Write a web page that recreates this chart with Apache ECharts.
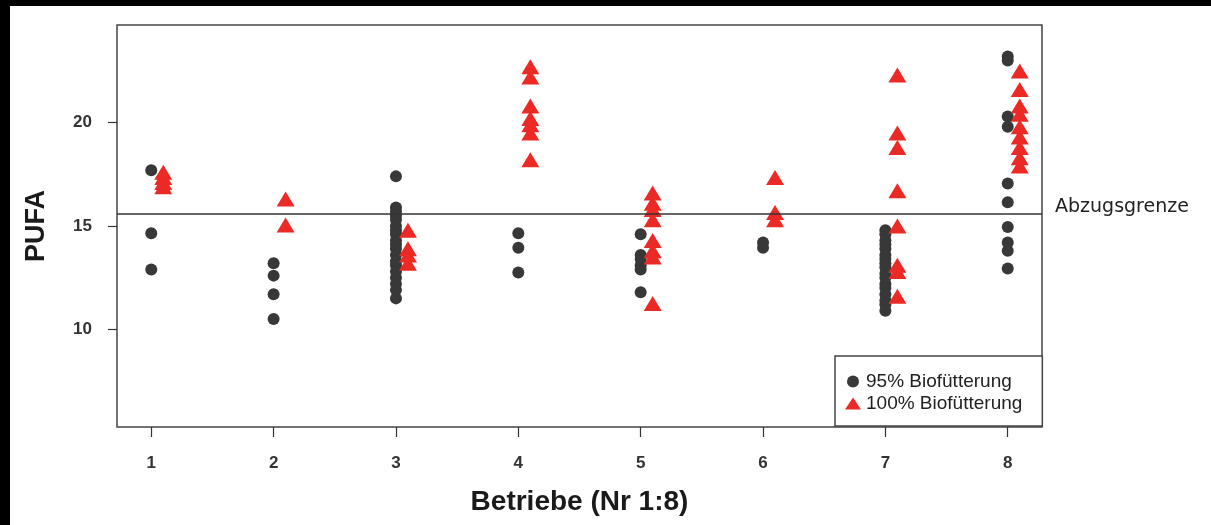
<!DOCTYPE html>
<html>
<head>
<meta charset="utf-8">
<script src="https://cdn.jsdelivr.net/npm/echarts@6/dist/echarts.min.js"></script>
<style>
  html, body { margin: 0; padding: 0; background: #fff; }
  #chart { width: 1211px; height: 525px; }
</style>
</head>
<body>
<div id="chart"></div>
<script>
// Betrieb (farm number) and PUFA value for each animal
const bio95 = [
  [1, 17.7], [1, 14.65], [1, 12.9],
  [2, 13.2], [2, 12.6], [2, 11.7], [2, 10.5],
  [3, 17.4], [3, 15.9], [3, 15.7], [3, 15.5], [3, 15.3], [3, 15.0], [3, 14.8], [3, 14.6], [3, 14.3],
  [3, 14.1], [3, 13.9], [3, 13.6], [3, 13.3], [3, 13.1], [3, 12.8], [3, 12.5], [3, 12.2], [3, 11.9], [3, 11.5],
  [4, 14.65], [4, 13.95], [4, 12.75],
  [5, 14.6], [5, 13.6], [5, 13.4], [5, 13.1], [5, 12.9], [5, 11.8],
  [6, 14.2], [6, 13.95],
  [7, 14.8], [7, 14.6], [7, 14.3], [7, 14.1], [7, 13.9], [7, 13.6], [7, 13.4], [7, 13.2], [7, 13.0],
  [7, 12.7], [7, 12.5], [7, 12.2], [7, 12.0], [7, 11.7], [7, 11.4], [7, 11.2], [7, 10.9],
  [8, 23.2], [8, 23.0], [8, 20.3], [8, 19.8], [8, 17.05], [8, 16.15], [8, 14.95], [8, 14.2], [8, 13.8], [8, 12.95]
];
const bio100 = [
  [1, 17.6], [1, 17.35], [1, 17.1], [1, 16.9],
  [2, 16.3], [2, 15.05],
  [3, 14.8], [3, 13.9], [3, 13.6], [3, 13.2],
  [4, 22.7], [4, 22.2], [4, 20.8], [4, 20.2], [4, 19.9], [4, 19.5], [4, 18.2],
  [5, 16.6], [5, 16.1], [5, 15.8], [5, 15.3], [5, 14.3], [5, 13.8], [5, 13.5], [5, 11.25],
  [6, 17.35], [6, 15.65], [6, 15.3],
  [7, 22.3], [7, 19.5], [7, 18.8], [7, 16.7], [7, 15.0], [7, 13.1], [7, 12.8], [7, 11.6],
  [8, 22.5], [8, 21.6], [8, 20.8], [8, 20.4], [8, 19.8], [8, 19.3], [8, 18.8], [8, 18.3], [8, 17.9]
];
const seriesNames = ['95% Biofütterung', '100% Biofütterung'];
const xTicks = [1, 2, 3, 4, 5, 6, 7, 8];
const yTicks = [10, 15, 20];
const abzugsgrenze = 15.6;
const xRange = [0.72, 8.28];
const yRange = [5.28, 24.72];

const chart = echarts.init(document.getElementById('chart'));
const labelFont = { fontFamily: 'Liberation Sans', fontSize: 17, fontWeight: 'bold', color: '#333' };

chart.setOption({
  backgroundColor: '#fff',
  animation: false,
  graphic: [
    { type: 'rect', shape: { x: 0, y: 0, width: 1211, height: 6 }, style: { fill: '#000' }, z: 100 },
    { type: 'rect', shape: { x: 0, y: 0, width: 10, height: 525 }, style: { fill: '#000' }, z: 100 }
  ],
  grid: {
    left: 117, top: 25, right: 169, bottom: 98,
    show: true, borderColor: '#444', borderWidth: 1.5, backgroundColor: 'transparent'
  },
  xAxis: {
    type: 'value', min: xRange[0], max: xRange[1],
    name: 'Betriebe (Nr 1:8)', nameLocation: 'middle', nameGap: 61,
    nameTextStyle: { fontFamily: 'Liberation Sans', fontWeight: 'bold', fontSize: 28, color: '#1a1a1a' },
    axisLine: { show: false },
    splitLine: { show: false },
    axisTick: { show: true, inside: false, length: 10, customValues: xTicks, lineStyle: { color: '#333', width: 1.2 } },
    axisLabel: Object.assign({ margin: 28, customValues: xTicks }, labelFont)
  },
  yAxis: {
    type: 'value', min: yRange[0], max: yRange[1],
    name: 'PUFA', nameLocation: 'middle', nameGap: 67, nameRotate: 90,
    nameTextStyle: { fontFamily: 'Liberation Sans', fontWeight: 'bold', fontSize: 27, color: '#1a1a1a' },
    axisLine: { show: false },
    splitLine: { show: false },
    axisTick: { show: true, inside: false, length: 9, customValues: yTicks, lineStyle: { color: '#333', width: 1.2 } },
    axisLabel: Object.assign({ margin: 25, customValues: yTicks }, labelFont)
  },
  legend: {
    orient: 'vertical', left: 835, top: 356,
    padding: [16, 20, 13, 10], itemGap: 3,
    itemWidth: 16, itemHeight: 12,
    borderColor: '#444', borderWidth: 1.5, backgroundColor: '#fff',
    textStyle: { fontFamily: 'Liberation Sans', fontSize: 19, color: '#222' },
    data: [
      { name: seriesNames[0], icon: 'circle' },
      { name: seriesNames[1], icon: 'triangle' }
    ]
  },
  series: [
    {
      name: seriesNames[0], type: 'scatter', data: bio95,
      symbol: 'circle', symbolSize: 12,
      itemStyle: { color: '#383838', opacity: 1 },
      markLine: {
        silent: true, symbol: ['none', 'none'],
        lineStyle: { color: '#333', width: 1.5, type: 'solid' },
        label: {
          show: true, position: 'end', formatter: 'Abzugsgrenze', distance: 13,
          fontFamily: 'DejaVu Sans', fontSize: 19, color: '#222', offset: [0, -7]
        },
        data: [{ yAxis: abzugsgrenze }]
      },
      z: 3
    },
    {
      name: seriesNames[1], type: 'scatter', data: bio100,
      symbol: 'triangle', symbolSize: [18, 15], symbolOffset: [12, 0],
      itemStyle: { color: '#ec2a25', opacity: 1 },
      z: 4
    }
  ]
});
</script>
</body>
</html>
